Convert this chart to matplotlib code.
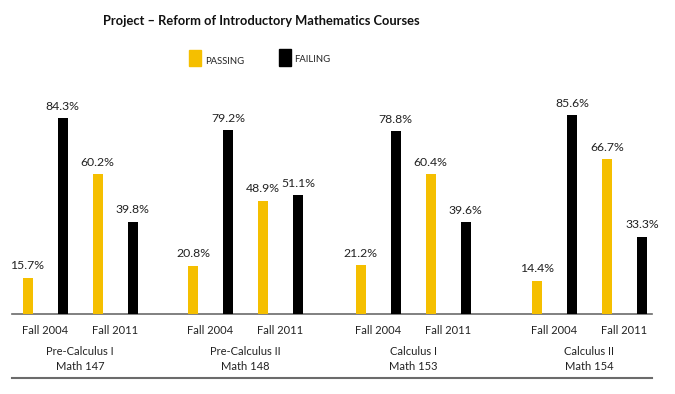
import matplotlib.pyplot as plt
import numpy as np

# data
courses = ["Pre-Calculus I\nMath 147", "Pre-Calculus II\nMath 148",
           "Calculus I\nMath 153", "Calculus II\nMath 154"]
terms = ["Fall 2004", "Fall 2011"]
passing_2004 = [15.7, 20.8, 21.2, 14.4]
failing_2004 = [84.3, 79.2, 78.8, 85.6]
passing_2011 = [60.2, 48.9, 60.4, 66.7]
failing_2011 = [39.8, 51.1, 39.6, 33.3]

yellow = "#F5BF00"
black = "#000000"
grey = "#6b6b6b"
font = "Lato"

fig = plt.figure(figsize=(6.75, 3.94), dpi=100)
# axes spanning the figure width in pixel-like units, baseline at y=314px
ax = fig.add_axes([0, 1 - 314 / 394, 1, 234 / 394])
ax.set_xlim(0, 675)
ax.set_ylim(0, 234 / 2.32)
ax.axis("off")

# group centres (pixels) and bar offsets within a group
group_x = np.array([80, 245.5, 413, 589.5])
offsets = np.array([-52.5, -17.5, 17.5, 52.5])
width = 10

series = [passing_2004, failing_2004, passing_2011, failing_2011]
colors = [yellow, black, yellow, black]
for vals, off, col in zip(series, offsets, colors):
    xs = group_x + off
    ax.bar(xs, vals, width=width, color=col, zorder=3)
    for x, v in zip(xs, vals):
        ax.annotate(f"{v}%", (x, v), xytext=(0, 4.5), textcoords="offset points",
                    ha="center", va="bottom", fontsize=8.8, family=font,
                    color="#222222")

ax.plot([12, 652], [0, 0], color=grey, lw=1.2, clip_on=False, zorder=2)

# labels below the axis, in figure pixels
def fy(py):
    return 1 - py / 394

for gx, name in zip(group_x, courses):
    for k, t in enumerate(terms):
        cx = gx + (offsets[2 * k] + offsets[2 * k + 1]) / 2
        fig.text(cx / 675, fy(330), t, ha="center", va="center",
                 fontsize=8, family=font, color="#222222")
    fig.text(gx / 675, fy(359), name, ha="center", va="center",
             fontsize=8, family=font, color="#222222", linespacing=1.4)

fig.add_artist(plt.Line2D([12 / 675, 652 / 675], [fy(378), fy(378)],
                          color=grey, lw=1.5))

fig.text(261 / 675, fy(21), "Project \u2013 Reform of Introductory Mathematics Courses",
         ha="center", va="center", fontsize=9.3, fontweight="bold",
         family=font, color="#111111")

# legend
fig.add_artist(plt.Rectangle((189 / 675, fy(66)), 12 / 675, 16 / 394,
                             color=yellow, transform=fig.transFigure))
fig.text(205 / 675, fy(61), "PASSING", ha="left", va="center",
         fontsize=6.8, family=font, color="#222222")
fig.add_artist(plt.Rectangle((279 / 675, fy(66)), 12 / 675, 17 / 394,
                             color=black, transform=fig.transFigure))
fig.text(294 / 675, fy(59), "FAILING", ha="left", va="center",
         fontsize=6.8, family=font, color="#222222")

fig.savefig("out.png", dpi=100)
